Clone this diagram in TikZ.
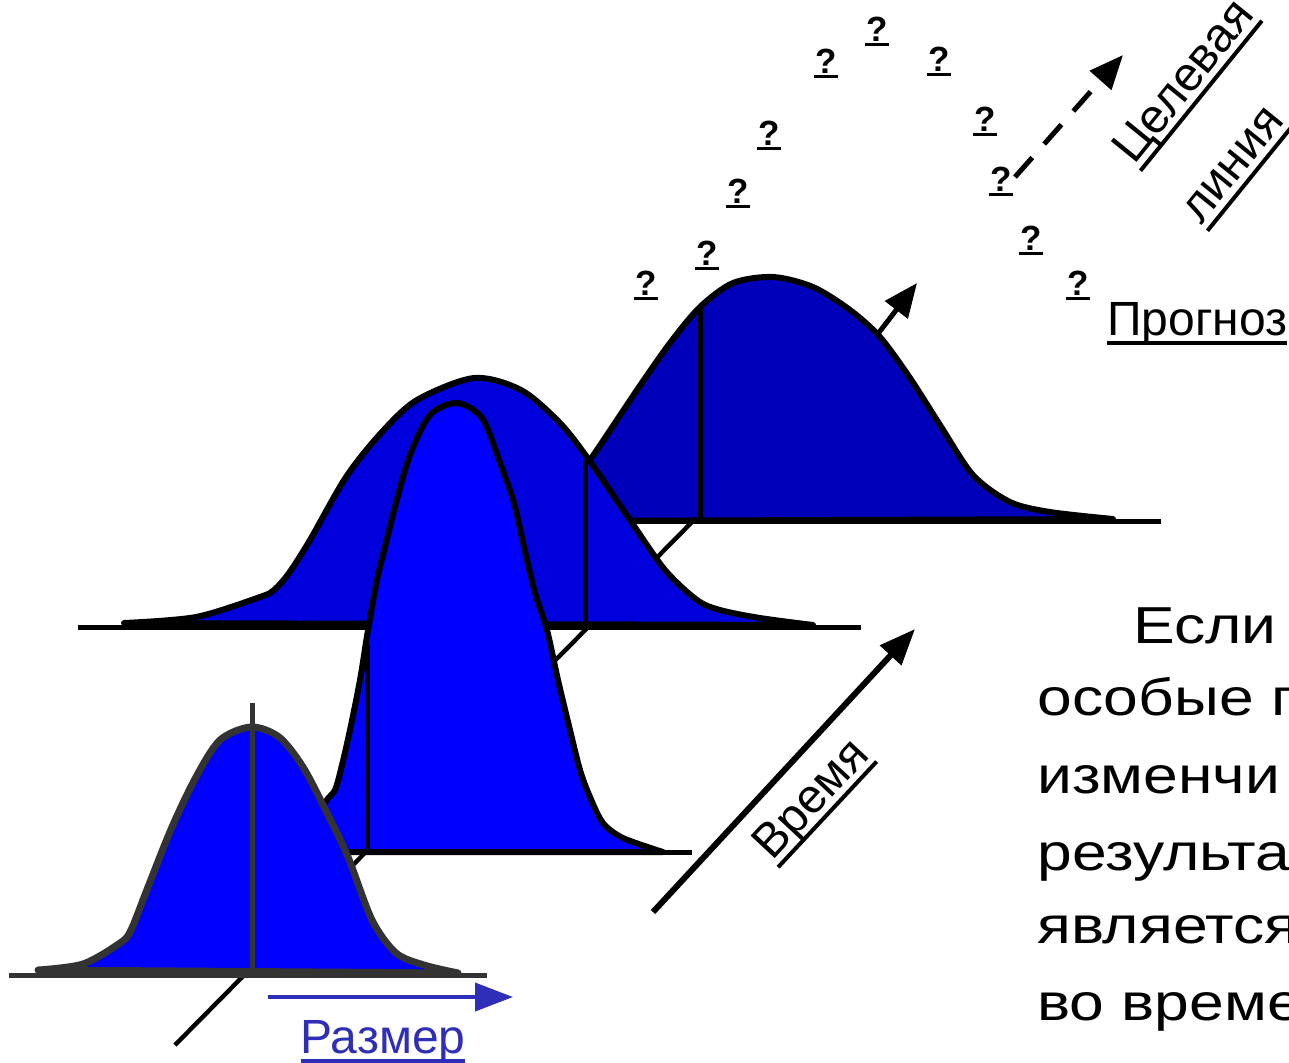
\documentclass[tikz,border=0pt]{standalone}
\usepackage{fontspec}
\usetikzlibrary{arrows.meta}
\setmainfont{Liberation Sans}
\newfontfamily\bodyfont[FakeStretch=1.2]{Liberation Sans}

\definecolor{backblue}{RGB}{0,0,187}
\definecolor{midblue}{RGB}{0,0,221}
\definecolor{frontblue}{RGB}{0,0,255}
\definecolor{darkline}{RGB}{51,51,51}
\definecolor{sizeblue}{RGB}{46,46,184}

\newsavebox{\ulsave}
% underlined text: #1 = lower edge of the rule, #2 = rule thickness
\newcommand{\ulbox}[3]{\sbox{\ulsave}{#3}\usebox{\ulsave}\kern-\wd\ulsave\rule[-#1]{\wd\ulsave}{#2}}
\newcommand{\ulq}[1]{\ulbox{2.7pt}{1.5pt}{\makebox[12pt]{#1}}}
\newcommand{\ullbl}[1]{\ulbox{5pt}{2pt}{#1}}

\tikzset{
  curve/.style={line width=3pt, line join=round},
  groundline/.style={line width=2.5pt},
  midline/.style={line width=2.5pt},
  axisline/.style={line width=2.2pt},
  bigarrow/.style={line width=3pt, -{Triangle[length=18pt,width=14pt]}},
  sizearrow/.style={sizeblue, line width=2pt, -{Triangle[length=19pt,width=14pt]}},
  qmark/.style={font=\bfseries\fontsize{17.5pt}{20pt}\selectfont, inner sep=0pt},
  lbl/.style={font=\fontsize{24pt}{28pt}\selectfont, inner sep=0pt},
  bodytxt/.style={font=\bodyfont\fontsize{26pt}{30pt}\selectfont, inner sep=0pt, anchor=base west}
}

\begin{document}
\begin{tikzpicture}[x=0.5pt, y=-0.5pt]
\useasboundingbox (0,0) rectangle (1289,1062);
\clip (0,0) rectangle (1289,1062);

% time axis, mostly hidden behind the curves
\coordinate (ax0) at (175,1045);
\coordinate (ax1) at (693,521);
\draw[axisline] (ax0) -- (ax1);

% back curve
\filldraw[fill=backblue, curve] plot[smooth] coordinates {(545,521) (590,460) (637,390) (670,343) (700,307) (733,283) (773,277) (813,287) (850,310) (880,337) (910,378) (940,425) (973,475) (1010,502) (1050,512) (1113,519)} -- cycle;
\draw[midline] (700,309) -- (700,519);
\draw[groundline] (600,521) -- (1161,521);

% middle wide curve
\filldraw[fill=midblue, curve] plot[smooth] coordinates {(124,623) (196,617) (260,597) (274,590) (289,573) (310,540) (346,477) (381,433) (417,400) (474,378) (521,390) (560,423) (589,460) (630,520) (665,570) (697,600) (720,610) (760,618) (813,625)} -- cycle;
\draw[midline] (585,460) -- (585,625);
\draw[groundline] (78,627) -- (861,627);

% tall narrow curve
\filldraw[fill=frontblue, curve] plot[smooth] coordinates {(300,852) (325,803) (335,790) (342,765) (350,730) (360,680) (368,630) (377,580) (385,547) (396,503) (410,455) (430,415) (457,403) (482,418) (499,460) (514,503) (524,547) (535,593) (547,630) (558,680) (570,730) (580,770) (590,797) (603,823) (623,838) (663,852)} -- cycle;
\draw[midline] (367,645) -- (367,850);
\draw[groundline] (330,852) -- (692,852);

% front curve
\filldraw[fill=frontblue, draw=darkline, curve, line width=3.5pt] plot[smooth] coordinates {(38,970) (83,964) (120,943) (131,930) (148,887) (172,827) (196,777) (220,740) (251,727) (279,737) (303,767) (327,813) (348,857) (372,920) (396,953) (424,965) (458,973)} -- cycle;
\draw[midline, darkline] (252,703) -- (252,975);
\draw[groundline, darkline] (9,975) -- (487,975);

% size axis
\coordinate (sz0) at (268,997);
\coordinate (sz1) at (513,997);
\draw[sizearrow] (sz0) -- (sz1);
\node[lbl, sizeblue, anchor=base] (size) at (383,1053) {\ullbl{Размер}};

% time arrow
\coordinate (tm0) at (653,912);
\coordinate (tm1) at (915,629);
\draw[bigarrow] (tm0) -- (tm1);
\node[lbl, rotate=47, anchor=base west] (time) at (772,862) {\ullbl{Время}};

% forecast
\coordinate (pr0) at (877,335);
\coordinate (pr1) at (917,283);
\draw[line width=2.5pt, -{Triangle[length=17pt,width=14pt]}] (pr0) -- (pr1);
\node[lbl, anchor=base west] (forecast) at (1107,335) {\ullbl{Прогноз}};

% target line
\coordinate (tg0) at (1015,177);
\coordinate (tg1) at (1123,55);
\draw[line width=2.5pt, dash pattern=on 13pt off 9pt, -{Triangle[length=17pt,width=14pt]}] (tg0) -- (tg1);
\node[lbl, rotate=51, anchor=base west] (target1) at (1134,166) {\ullbl{Целевая}};
\node[lbl, rotate=51, anchor=base west] (target2) at (1201,226) {\ullbl{линия}};

% question marks
\foreach \qx/\qy [count=\k] in {646/295, 707/265, 738/203, 769/145, 826/73, 877/41, 939/71, 985/131, 1001/191, 1031/250, 1078/295}
  \node[qmark, anchor=base] (q\k) at (\qx,\qy) {\ulq{?}};

% text on the right
\node[bodytxt] (txt1) at (1133,643) {Если};
\node[bodytxt] (txt2) at (1037,715) {особые п};
\node[bodytxt] (txt3) at (1037,793) {изменчи};
\node[bodytxt] (txt4) at (1037,870) {результа};
\node[bodytxt] (txt5) at (1037,943) {является};
\node[bodytxt] (txt6) at (1037,1020) {во време};
\end{tikzpicture}
\end{document}
